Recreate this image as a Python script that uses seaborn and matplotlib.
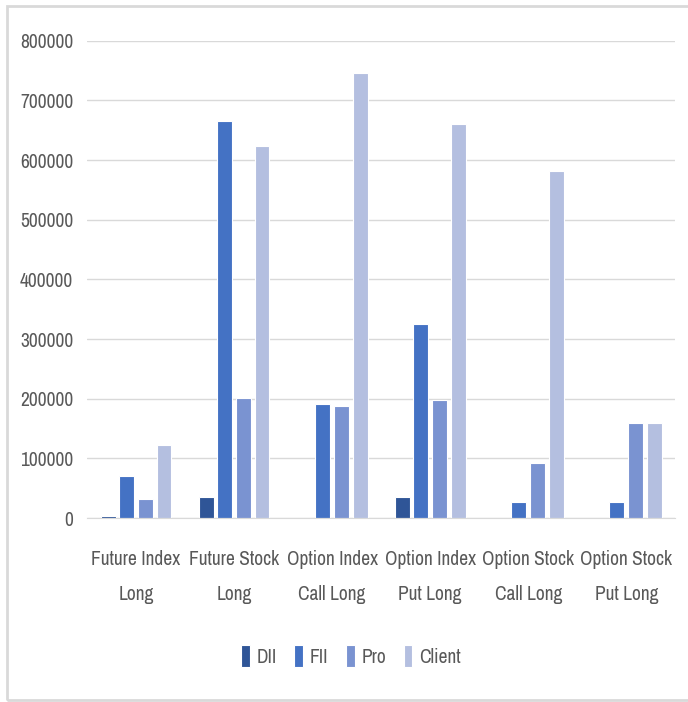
import numpy as np
import pandas as pd
import matplotlib
matplotlib.use('Agg')
import matplotlib.pyplot as plt
import seaborn as sns
from matplotlib.patches import Rectangle
from matplotlib import font_manager

categories = ['Future Index\nLong', 'Future Stock\nLong', 'Option Index\nCall Long',
              'Option Index\nPut Long', 'Option Stock\nCall Long', 'Option Stock\nPut Long']
groups = ['DII', 'FII', 'Pro', 'Client']
dii = [3000, 35000, 0, 35000, 0, 0]
fii = [71000, 666000, 191000, 325000, 27000, 27000]
pro = [32000, 201000, 188000, 198000, 92000, 159000]
client = [122000, 624000, 746000, 661000, 582000, 159000]
colors = ['#2F5597', '#4472C4', '#7A93D1', '#B4BFE0']

df = pd.DataFrame({'Category': categories, 'DII': dii, 'FII': fii, 'Pro': pro, 'Client': client})
long_df = df.melt(id_vars='Category', var_name='Type', value_name='Value')

# a narrow font looks closer to the original, use one if it is there
narrow = [f.name for f in font_manager.fontManager.ttflist
          if 'Narrow' in f.name or 'Condensed' in f.name]
sns.set_style('white')
if narrow:
    plt.rcParams['font.family'] = [narrow[0], 'DejaVu Sans']
    fs = 14
else:
    plt.rcParams['font.family'] = ['Liberation Sans', 'DejaVu Sans']
    fs = 11.5
txt = '#595959'

fig = plt.figure(figsize=(6.88, 7.02), dpi=100)
ax = fig.add_axes([0.1265, 0.262, 0.855, 0.68])
sns.barplot(data=long_df, x='Category', y='Value', hue='Type', hue_order=groups,
            palette=colors, saturation=1, width=0.76, gap=0.2, ax=ax,
            edgecolor='white', linewidth=0.8)

ax.set_ylim(0, 800000)
ax.set_yticks(np.arange(0, 800001, 100000))
ax.set_yticklabels([f'{v:d}' for v in range(0, 800001, 100000)], color=txt, fontsize=fs)
ax.tick_params(axis='x', colors=txt, labelsize=fs, length=0, pad=23)
ax.tick_params(axis='y', length=0, pad=10)
ax.grid(axis='y', color='#D9D9D9', linewidth=1)
ax.set_axisbelow(True)
for s in ['top', 'right', 'left']:
    ax.spines[s].set_visible(False)
ax.spines['bottom'].set_color('#D9D9D9')
ax.set_xlabel('')
ax.set_ylabel('')
for lab in ax.get_xticklabels():
    lab.set_linespacing(2.05)

leg = ax.legend(loc='center', bbox_to_anchor=(0.51, 0.0655), bbox_transform=fig.transFigure,
                ncol=4, frameon=False, fontsize=fs, handlelength=0.45, handleheight=1.3,
                handletextpad=0.35, columnspacing=0.9)
for t in leg.get_texts():
    t.set_color(txt)

# chart border (right side is cut off in the original)
fig.patches.append(Rectangle((0.01, 0.003), 1.2, 0.988, transform=fig.transFigure,
                             fill=False, edgecolor='#D9D9D9', linewidth=2))

fig.savefig('out.png', dpi=100)
